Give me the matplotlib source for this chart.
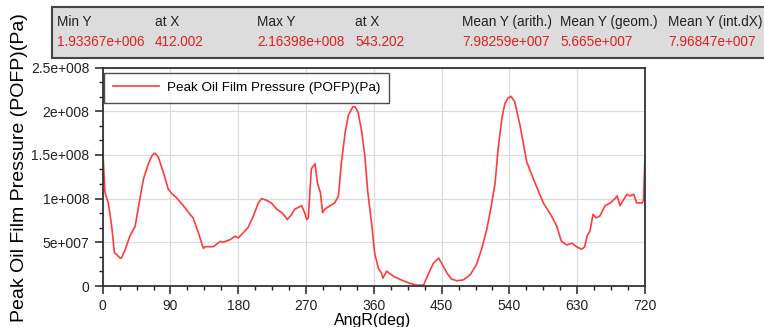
import matplotlib
matplotlib.use("Agg")
import matplotlib.pyplot as plt
from matplotlib.patches import Rectangle
from matplotlib.ticker import MultipleLocator

plt.rcParams['font.family'] = ['Liberation Sans', 'DejaVu Sans']

# crank angle (deg) and peak oil film pressure (1e8 Pa)
ang = [0, 3, 7.5, 12, 15.5, 18.6, 23, 25, 30, 36, 43, 47, 54, 60.6, 66, 69.5, 74, 80.5, 87, 91.5,
       98, 107, 116, 120, 127, 133.6, 136, 147, 156, 160, 169, 175.7, 180, 186.7, 193, 200, 206.6,
       211, 217.7, 224, 231, 237.6, 242, 245, 251, 255, 260, 264, 268, 271, 273, 277, 282, 285,
       289, 292, 295, 302, 308, 313, 317, 322, 326, 332, 335, 339, 344, 348, 352, 357, 361, 366,
       370, 372, 377, 386, 399, 408, 417, 426, 432, 439, 446, 450, 457, 463, 470, 479, 488, 496,
       503, 510, 516, 521, 525, 530, 534, 538, 542, 547, 554, 563, 572, 585, 596, 603, 609, 616,
       623, 629, 636, 640, 643, 647, 651, 655, 660, 667, 674, 680, 683, 687, 691, 696, 700, 705,
       709, 716, 718, 720]
pofp = [1.57, 1.07, 0.95, 0.68, 0.38, 0.36, 0.32, 0.32, 0.42, 0.57, 0.68, 0.88, 1.22, 1.40, 1.50,
        1.52, 1.47, 1.30, 1.11, 1.06, 1.01, 0.92, 0.82, 0.78, 0.61, 0.43, 0.45, 0.45, 0.51, 0.50,
        0.53, 0.57, 0.55, 0.61, 0.67, 0.80, 0.95, 1.00, 0.98, 0.95, 0.88, 0.84, 0.80, 0.76, 0.82,
        0.88, 0.90, 0.92, 0.84, 0.76, 0.78, 1.34, 1.40, 1.18, 1.07, 0.84, 0.88, 0.92, 0.95, 1.03,
        1.42, 1.76, 1.95, 2.05, 2.05, 1.99, 1.76, 1.49, 1.07, 0.72, 0.38, 0.20, 0.15, 0.09, 0.17,
        0.11, 0.06, 0.03, 0.01, 0.01, 0.13, 0.26, 0.32, 0.26, 0.15, 0.08, 0.06, 0.07, 0.13, 0.24,
        0.42, 0.65, 0.92, 1.18, 1.57, 1.92, 2.09, 2.15, 2.17, 2.11, 1.84, 1.42, 1.22, 0.95, 0.80,
        0.68, 0.51, 0.47, 0.49, 0.45, 0.42, 0.45, 0.57, 0.63, 0.82, 0.78, 0.80, 0.92, 0.95, 1.00,
        1.03, 0.92, 0.98, 1.05, 1.03, 1.05, 0.95, 0.95, 0.98, 1.49]
pofp_pa = [v * 1e8 for v in pofp]

xticks = [0, 90, 180, 270, 360, 450, 540, 630, 720]
yticks = [0, 5e7, 1e8, 1.5e8, 2e8, 2.5e8]
ytick_labels = ['0', '5e+007', '1e+008', '1.5e+008', '2e+008', '2.5e+008']

stat_names = ['Min Y', 'at X', 'Max Y', 'at X', 'Mean Y (arith.)', 'Mean Y (geom.)', 'Mean Y (int.dX)']
stat_values = ['1.93367e+006', '412.002', '2.16398e+008', '543.202', '7.98259e+007', '5.665e+007', '7.96847e+007']

W, H = 764, 327
fig = plt.figure(figsize=(W / 100, H / 100), dpi=100)
ax_w = (645 - 102.7)
ax_h = (286 - 67.5)
ax = fig.add_axes([102.7 / W, (H - 286) / H, ax_w / W, ax_h / H])

ax.plot(ang, pofp_pa, color='#ff3b3b', lw=1.2, label='Peak Oil Film Pressure (POFP)(Pa)')
ax.set_xlim(0, 720)
ax.set_ylim(0, 2.5e8)
ax.set_xticks(xticks)
ax.set_yticks(yticks)
ax.set_yticklabels(ytick_labels)
ax.xaxis.set_minor_locator(MultipleLocator(22.5))
ax.yaxis.set_minor_locator(MultipleLocator(2.5e8 / 15))
ax.grid(True, which='major', color='#dddddd', lw=0.9)
ax.set_axisbelow(True)
ax.tick_params(which='major', direction='out', length=5.5, width=1.1, labelsize=10, colors='#222222')
ax.tick_params(axis='x', which='major', pad=4)
ax.tick_params(axis='y', which='major', pad=4)
ax.tick_params(which='minor', direction='out', length=3, width=1.0, colors='#222222')
for s in ax.spines.values():
    s.set_color('#333333')
    s.set_linewidth(1.3)

ax.set_xlabel('AngR(deg)', fontsize=11.5)
ax.xaxis.set_label_coords((373 - 102.7) / ax_w, -(320.5 - 286) / ax_h)
ax.set_ylabel('Peak Oil Film Pressure (POFP)(Pa)', fontsize=14)
ax.yaxis.set_label_coords(-(102.7 - 19) / ax_w, (286 - 168) / ax_h)
ax.yaxis.label.set_va('center')
ax.xaxis.label.set_va('center')

leg = ax.legend(loc='upper left', bbox_to_anchor=(1.3 / ax_w, 1 - 5.5 / ax_h), fontsize=9.7, frameon=True,
                fancybox=False, borderpad=0.65, handlelength=3.4, handletextpad=0.6, borderaxespad=0.0)
leg.get_frame().set_edgecolor('#222222')
leg.get_frame().set_linewidth(1.0)

# statistics header box
box = Rectangle((52 / W, (H - 58) / H), (W - 52 + 10) / W, 51 / H, transform=fig.transFigure,
                facecolor='#dcdcdc', edgecolor='#444444', lw=1.5, zorder=5)
fig.patches.append(box)
col_x = [57, 155, 257, 355, 462, 560, 668]
for cx, name, val in zip(col_x, stat_names, stat_values):
    fig.text(cx / W, (H - 22) / H, name, fontsize=9.8, color='#222222', va='center', ha='left', zorder=6)
    fig.text(cx / W, (H - 42) / H, val, fontsize=9.8, color='#e02020', va='center', ha='left', zorder=6)

fig.savefig('out.png', dpi=100)
